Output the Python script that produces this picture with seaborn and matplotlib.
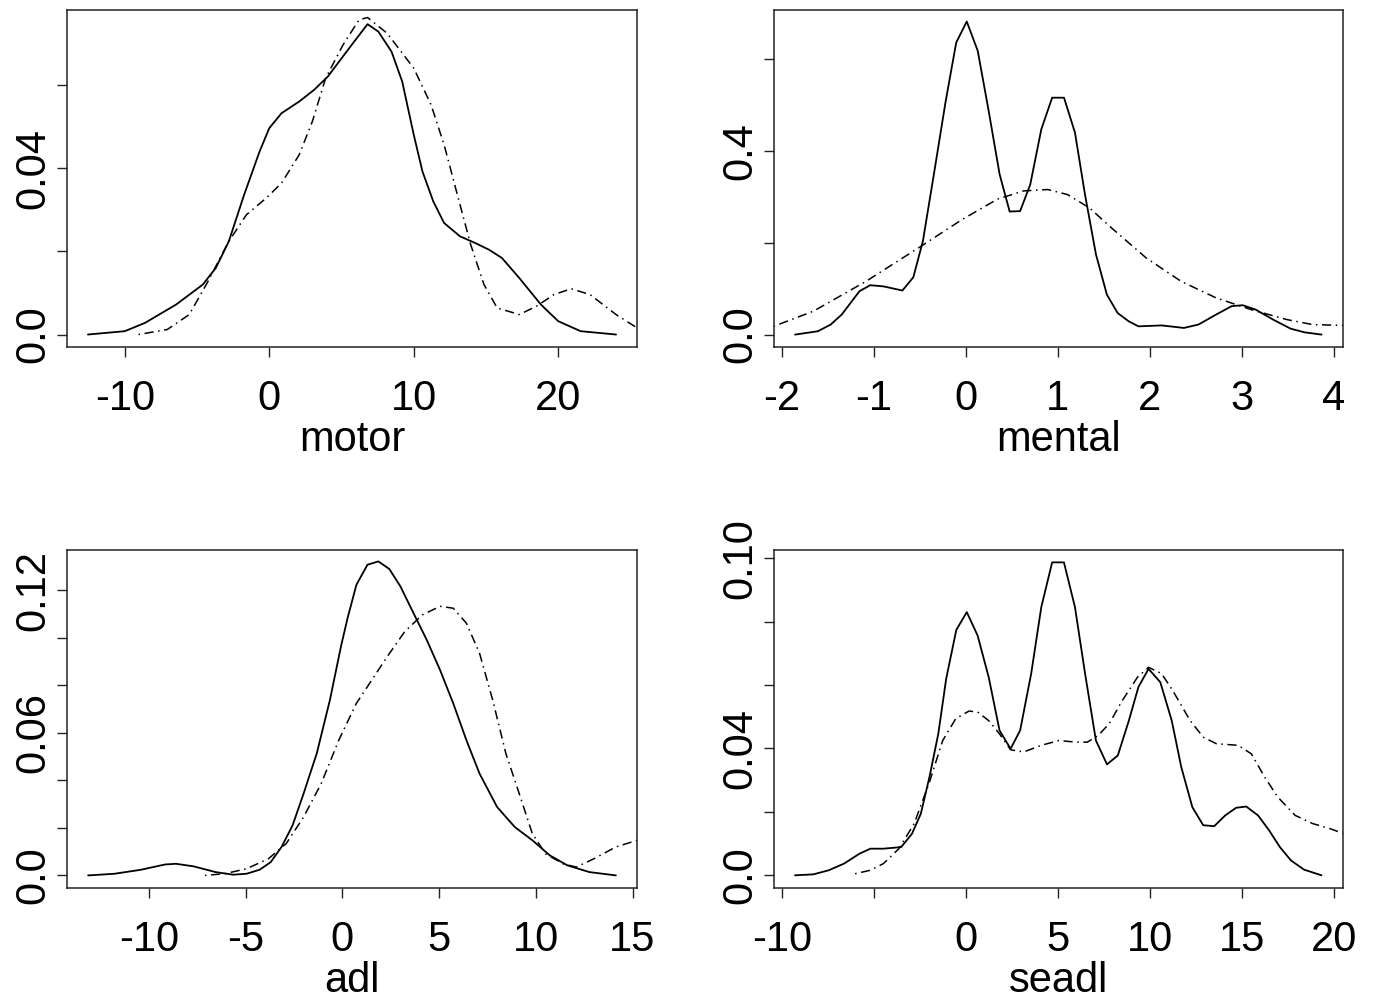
import numpy as np
import pandas as pd
import matplotlib
matplotlib.use("Agg")
import matplotlib.pyplot as plt
import seaborn as sns

# curves: solid = kernel estimate, dash-dot = fitted density
motor_x_solid = [-12.55, -10.0, -8.6, -6.45, -4.6, -3.7, -2.8, -1.74, -0.67, 0.0, 0.85, 2.07, 3.1,
                 4.05, 5.7, 6.8, 7.55, 8.46, 9.2, 10.0, 10.6, 11.35, 12.1, 13.2, 14.25, 15.2, 16.1,
                 17.3, 18.8, 20.0, 21.55, 24.0]
motor_y_solid = [0.0, 0.0008, 0.0028, 0.0072, 0.012, 0.016, 0.0224, 0.0336, 0.044, 0.0496, 0.0532,
                 0.056, 0.0588, 0.062, 0.0696, 0.0746, 0.0728, 0.068, 0.0608, 0.048, 0.0392, 0.032,
                 0.0268, 0.0236, 0.022, 0.0204, 0.0184, 0.0136, 0.0072, 0.0032, 0.0008, 0.0]
motor_x_fit = [-9.05, -7.06, -5.54, -4.3, -2.8, -1.58, -0.21, 0.85, 2.07, 2.98, 3.9, 5.1, 6.2, 6.8,
               8.16, 10.0, 11.2, 12.1, 13.2, 13.94, 14.86, 15.77, 17.3, 18.5, 19.7, 20.9, 22.2,
               24.0, 25.45]
motor_y_fit = [0.0, 0.0012, 0.0048, 0.0124, 0.0224, 0.0288, 0.0328, 0.0364, 0.0432, 0.0512, 0.0616,
               0.0696, 0.0756, 0.0762, 0.0724, 0.064, 0.0552, 0.0456, 0.0312, 0.0216, 0.012, 0.0064,
               0.0048, 0.0068, 0.0096, 0.011, 0.0096, 0.0048, 0.0016]

mental_x_solid = [-1.857, -1.61, -1.47, -1.35, -1.157, -1.04, -0.895, -0.69, -0.571, -0.467, -0.348,
                  -0.219, -0.105, 0.0095, 0.129, 0.248, 0.367, 0.476, 0.59, 0.7, 0.82, 0.938, 1.067,
                  1.186, 1.295, 1.414, 1.533, 1.65, 1.77, 1.876, 2.13, 2.37, 2.53, 2.72, 2.89, 3.01,
                  3.15, 3.34, 3.53, 3.68, 3.867]
mental_y_solid = [0.0, 0.0073, 0.0218, 0.0436, 0.0945, 0.1076, 0.105, 0.096, 0.125, 0.204, 0.349,
                  0.509, 0.636, 0.682, 0.618, 0.487, 0.349, 0.268, 0.269, 0.327, 0.447, 0.516, 0.516,
                  0.44, 0.305, 0.175, 0.087, 0.047, 0.029, 0.018, 0.02, 0.0145, 0.022, 0.0436, 0.062,
                  0.064, 0.0545, 0.0327, 0.013, 0.005, 0.0]
mental_x_fit = [-2.09, -1.657, -1.086, -0.514, -0.038, 0.343, 0.629, 0.89, 1.105, 1.343, 1.58, 1.96,
                2.34, 2.72, 3.1, 3.49, 3.77, 4.11]
mental_y_fit = [0.018, 0.051, 0.116, 0.189, 0.251, 0.295, 0.313, 0.316, 0.305, 0.276, 0.233, 0.167,
                0.116, 0.08, 0.0545, 0.0327, 0.0218, 0.02]

adl_x_solid = [-13.14, -11.77, -10.4, -9.16, -8.6, -7.68, -6.55, -5.64, -4.95, -4.27, -3.7, -3.14,
               -2.57, -2.0, -1.32, -0.64, -0.07, 0.27, 0.73, 1.3, 1.86, 2.43, 3.0, 3.68, 4.36, 5.05,
               5.73, 6.41, 7.09, 8.0, 8.91, 9.82, 10.73, 11.64, 12.77, 14.14]
adl_y_solid = [0.0, 0.0007, 0.0024, 0.0046, 0.0049, 0.0038, 0.0014, 0.0003, 0.0007, 0.0024, 0.0056,
               0.012, 0.0211, 0.0345, 0.0514, 0.0739, 0.0964, 0.1083, 0.1224, 0.1308, 0.1322, 0.129,
               0.1217, 0.1104, 0.0992, 0.0865, 0.0725, 0.057, 0.0429, 0.0288, 0.0204, 0.0148, 0.0084,
               0.0042, 0.0014, 0.0]
adl_x_fit = [-7.1, -6.09, -4.95, -3.82, -2.9, -2.0, -1.09, -0.18, 0.73, 1.64, 2.32, 3.23, 4.14, 5.05,
             5.73, 6.41, 7.09, 7.77, 8.45, 9.14, 9.82, 10.5, 11.41, 12.09, 13.0, 14.14, 15.25]
adl_y_fit = [0.0, 0.0007, 0.0028, 0.007, 0.0134, 0.0246, 0.0387, 0.057, 0.0725, 0.0837, 0.0921,
             0.1027, 0.1097, 0.1133, 0.1125, 0.1062, 0.0936, 0.0739, 0.0514, 0.0345, 0.0176, 0.0091,
             0.0049, 0.0035, 0.007, 0.012, 0.0148]

seadl_x_solid = [-9.29, -8.29, -7.45, -6.62, -5.79, -5.19, -4.48, -3.52, -2.93, -2.45, -1.98, -1.5,
                 -1.07, -0.52, 0.05, 0.64, 1.24, 1.83, 2.43, 2.95, 3.55, 4.1, 4.69, 5.33, 5.93, 6.48,
                 7.07, 7.67, 8.26, 8.86, 9.38, 9.93, 10.57, 11.19, 11.71, 12.31, 12.9, 13.5, 14.1,
                 14.69, 15.24, 15.88, 16.48, 17.07, 17.67, 18.38, 19.33]
seadl_y_solid = [0.0, 0.0003, 0.0016, 0.0037, 0.0068, 0.0084, 0.0084, 0.0089, 0.0131, 0.0194, 0.031,
                 0.0446, 0.062, 0.0774, 0.083, 0.0756, 0.0625, 0.0457, 0.0399, 0.0457, 0.0636,
                 0.0846, 0.0987, 0.0987, 0.0846, 0.0636, 0.0425, 0.035, 0.0378, 0.0488, 0.0594,
                 0.0651, 0.0609, 0.0488, 0.0341, 0.0215, 0.0158, 0.0155, 0.0189, 0.0213, 0.0217,
                 0.0189, 0.0142, 0.0089, 0.0047, 0.0018, 0.0]
seadl_x_fit = [-6.02, -5.19, -4.48, -3.64, -2.81, -1.98, -1.26, -0.55, 0.17, 0.64, 1.24, 1.83, 2.43,
               3.14, 4.1, 5.05, 6.0, 6.6, 7.19, 7.79, 8.5, 9.33, 9.93, 10.64, 11.24, 12.19, 12.9,
               13.62, 14.8, 15.52, 16.24, 16.95, 17.9, 18.86, 19.81, 20.55]
seadl_y_fit = [0.0005, 0.0016, 0.0037, 0.0084, 0.0163, 0.0294, 0.0425, 0.0494, 0.0518, 0.0515,
               0.0488, 0.0446, 0.0396, 0.0389, 0.041, 0.0425, 0.042, 0.042, 0.0441, 0.0478, 0.0551,
               0.0625, 0.0656, 0.0636, 0.0583, 0.0488, 0.0436, 0.0415, 0.041, 0.0383, 0.031, 0.0247,
               0.0189, 0.0163, 0.0147, 0.0131]

# axis set-up per panel
names = ["motor", "mental", "adl", "seadl"]
xticks = {"motor": [-10, 0, 10, 20], "mental": [-2, -1, 0, 1, 2, 3, 4],
          "adl": [-10, -5, 0, 5, 10, 15], "seadl": [-10, -5, 0, 5, 10, 15, 20]}
xticklabels = {"motor": ["-10", "0", "10", "20"],
               "mental": ["-2", "-1", "0", "1", "2", "3", "4"],
               "adl": ["-10", "-5", "0", "5", "10", "15"],
               "seadl": ["-10", "", "0", "5", "10", "15", "20"]}
yticks = {"motor": [0, 0.02, 0.04, 0.06], "mental": [0, 0.2, 0.4, 0.6],
          "adl": [0, 0.02, 0.04, 0.06, 0.08, 0.10, 0.12],
          "seadl": [0, 0.02, 0.04, 0.06, 0.08, 0.10]}
yticklabels = {"motor": ["0.0", "", "0.04", ""], "mental": ["0.0", "", "0.4", ""],
               "adl": ["0.0", "", "", "0.06", "", "", "0.12"],
               "seadl": ["0.0", "", "0.04", "", "", "0.10"]}
xlims = {"motor": (-14.0, 25.45), "mental": (-2.086, 4.1), "adl": (-14.23, 15.23), "seadl": (-10.43, 20.5)}
ylims = {"motor": (-0.003, 0.078), "mental": (-0.027, 0.707), "adl": (-0.0053, 0.137), "seadl": (-0.004, 0.1026)}

curves = {
    "motor": (motor_x_solid, motor_y_solid, motor_x_fit, motor_y_fit),
    "mental": (mental_x_solid, mental_y_solid, mental_x_fit, mental_y_fit),
    "adl": (adl_x_solid, adl_y_solid, adl_x_fit, adl_y_fit),
    "seadl": (seadl_x_solid, seadl_y_solid, seadl_x_fit, seadl_y_fit),
}

sns.set_style("ticks", {"text.color": "black", "axes.labelcolor": "black",
                        "xtick.color": "black", "ytick.color": "black",
                        "axes.edgecolor": "#222222"})
plt.rcParams["font.family"] = ["Liberation Sans", "DejaVu Sans"]

W, H = 1378, 1007
fig = plt.figure(figsize=(W / 100, H / 100), dpi=100)
boxes = {"motor": (67, 10, 637, 347), "mental": (774, 10, 1343, 347),
         "adl": (67, 550, 637, 888), "seadl": (774, 550, 1343, 888)}

for name in names:
    l, t, r, b = boxes[name]
    ax = fig.add_axes([l / W, 1 - b / H, (r - l) / W, (b - t) / H])
    xs, ys, xf, yf = curves[name]
    sns.lineplot(x=xs, y=ys, ax=ax, color="black", lw=1.3, estimator=None, sort=False)
    sns.lineplot(x=xf, y=yf, ax=ax, color="black", lw=1.1, estimator=None, sort=False,
                 linestyle=(0, (1, 3, 6, 3)))
    ax.set_xlim(*xlims[name])
    ax.set_ylim(*ylims[name])
    ax.set_xticks(xticks[name])
    ax.set_xticklabels(xticklabels[name])
    ax.set_yticks(yticks[name])
    ax.set_yticklabels(yticklabels[name], rotation=90, va="center")
    ax.tick_params(axis="both", length=7, width=1, color="#222222", labelcolor="black", labelsize=30)
    ax.tick_params(axis="x", pad=16)
    ax.tick_params(axis="y", pad=3)
    ax.set_xlabel(name, fontsize=30, labelpad=1, color="black")
    ax.set_ylabel("")
    for sp in ax.spines.values():
        sp.set_visible(True)
        sp.set_linewidth(1.1)
        sp.set_color("#222222")

fig.savefig("out.png", dpi=100)
